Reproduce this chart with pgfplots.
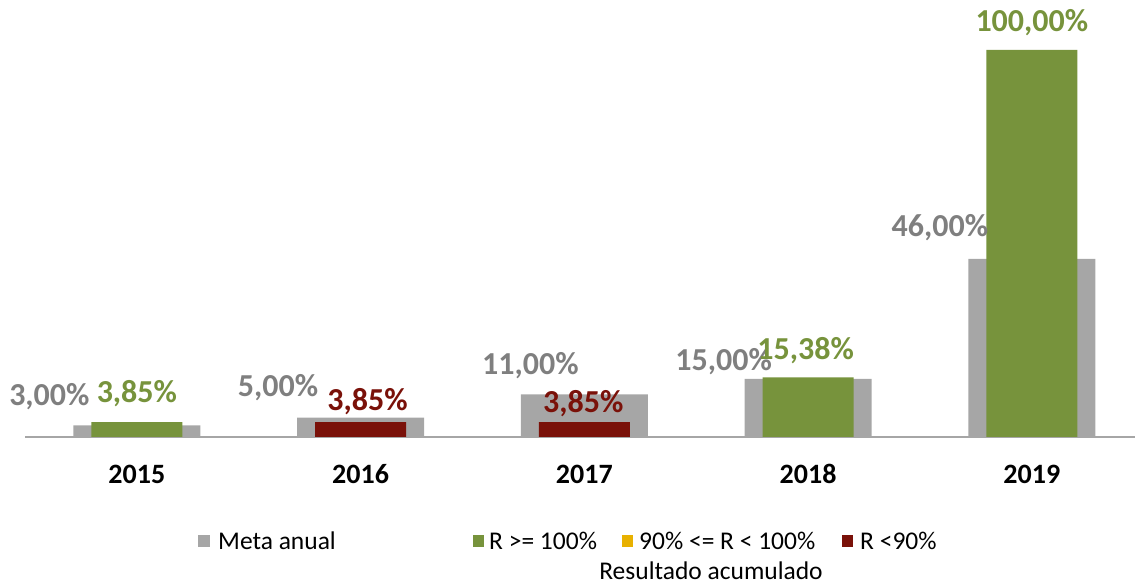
\documentclass[border=0pt]{standalone}
\usepackage{pgfplots}
\usepackage{pgfplotstable}
\pgfplotsset{compat=1.18}
\usepackage{fontspec}
\setmainfont{Carlito}
\definecolor{cgray}{HTML}{A6A6A6}
\definecolor{cgraytxt}{HTML}{7F7F7F}
\definecolor{cgreen}{HTML}{77933C}
\definecolor{cred}{HTML}{7A1109}
\definecolor{cyellow}{HTML}{E8B100}
\newcommand{\lblfont}{\fontsize{32}{36}\selectfont\bfseries}
\pgfplotstableread{
x y dx dy
0 3 -87.5 20
1 5 -82.5 21
2 11 -54 20
3 15 -84.5 8
4 46 -92 22
}\meta
\pgfplotstableread{
x y dx dy
0 3.85 0 20
3 15.38 -2.5 18
4 100 0 18
}\green
\pgfplotstableread{
x y dx dy
1 3.85 7 12
2 3.85 -1 10
}\red
\begin{document}
\begin{tikzpicture}[x=1pt,y=1pt]
\useasboundingbox (0,0) rectangle (1135,585);
\begin{axis}[
  at={(25pt,148pt)}, anchor=south west,
  scale only axis, width=1110pt, height=437pt,
  xmin=-0.5, xmax=4.461, ymin=0, ymax=112.92,
  axis x line*=bottom, axis y line=none,
  x axis line style={draw=cgray, line width=1.5pt, -},
  xtick={0,1,2,3,4},
  xticklabels={2015,2016,2017,2018,2019},
  major tick length=0pt,
  xticklabel style={font=\fontsize{28}{32}\selectfont\bfseries, anchor=base, yshift=-47pt},
  clip=false,
  /pgf/number format/assume math mode=true,
  nodes near coords={\pgfmathprintnumber[fixed,fixed zerofill,precision=2,use comma,assume math mode=true]{\pgfplotspointmeta}\%},
  point meta=y,
  visualization depends on={\thisrow{dx} \as \mydx},
  visualization depends on={\thisrow{dy} \as \mydy},
  every node near coord/.append style={font=\lblfont, anchor=base, inner sep=0pt, xshift=\mydx pt, yshift=\mydy pt},
]
\addplot[ybar, bar width=127pt, fill=cgray, draw=none,
  every node near coord/.append style={text=cgraytxt}]
  table[x=x,y=y] {\meta};
\addplot[ybar, bar width=91pt, fill=cgreen, draw=none,
  every node near coord/.append style={text=cgreen}]
  table[x=x,y=y] {\green};
\addplot[ybar, bar width=91pt, fill=cred, draw=none,
  every node near coord/.append style={text=cred}]
  table[x=x,y=y] {\red};
\end{axis}
% legend
\begin{scope}[every node/.style={font=\fontsize{25.5}{30}\selectfont, inner sep=0pt, anchor=base west}]
\fill[cgray] (198,37.5) rectangle (210,49.5);
\node at (218,35) {Meta anual};
\fill[cgreen] (473,37.5) rectangle (484,49.5);
\node at (489,35) {R >= 100\%};
\fill[cyellow] (622,37.5) rectangle (633,49.5);
\node at (639,35) {90\% <= R < 100\%};
\fill[cred] (842,37.5) rectangle (853,49.5);
\node at (860,35) {R <90\%};
\node[anchor=base] at (711,5) {Resultado acumulado};
\end{scope}
\end{tikzpicture}
\end{document}
